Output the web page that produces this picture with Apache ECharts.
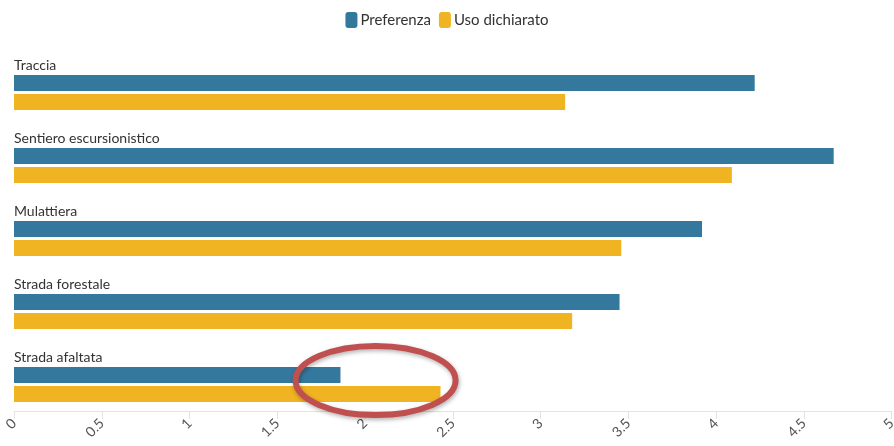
<!DOCTYPE html>
<html>
<head>
<meta charset="utf-8">
<script src="https://cdn.jsdelivr.net/npm/echarts@6/dist/echarts.min.js"></script>
<style>
  html, body { margin: 0; padding: 0; background: #fff; }
  #chart { width: 894px; height: 446px; }
</style>
</head>
<body>
<div id="chart"></div>
<script>
var categories = ['Traccia', 'Sentiero escursionistico', 'Mulattiera', 'Strada forestale', 'Strada afaltata']
var preferenza = [4.22, 4.67, 3.92, 3.45, 1.86]
var usoDichiarato = [3.14, 4.09, 3.46, 3.18, 2.43]
var xTicks = [0, 0.5, 1, 1.5, 2, 2.5, 3, 3.5, 4, 4.5, 5]

var myChart = echarts.init(document.getElementById('chart'))
var font = 'Lato, "Noto Sans", sans-serif'

var option = {
  animation: false,
  textStyle: { fontFamily: font },
  legend: {
    top: 7,
    left: 'center',
    itemWidth: 12,
    itemHeight: 16,
    itemGap: 8,
    icon: 'roundRect',
    textStyle: { fontSize: 15, color: '#333', fontFamily: font, padding: [0, 0, 0, -2] },
    data: ['Preferenza', 'Uso dichiarato']
  },
  grid: {
    left: 14,
    right: 2.4,
    top: 56,
    height: 365,
    containLabel: false,
    outerBoundsMode: 'none'
  },
  xAxis: {
    type: 'value',
    min: 0,
    max: 5,
    interval: 0.5,
    offset: -10,
    splitLine: { show: false },
    axisLine: { show: true, lineStyle: { color: '#e3e3e3', width: 1 } },
    axisTick: { show: true, length: 8, lineStyle: { color: '#e3e3e3' } },
    axisLabel: {
      rotate: 45,
      color: '#555',
      fontSize: 14,
      margin: 10,
      fontFamily: font,
      formatter: function (v) { return xTicks.indexOf(v) >= 0 ? String(v) : '' }
    }
  },
  yAxis: {
    type: 'category',
    inverse: true,
    data: categories,
    axisLine: { show: false },
    axisTick: { show: false },
    axisLabel: { show: false }
  },
  series: [
    {
      name: 'Preferenza',
      type: 'bar',
      data: preferenza,
      barWidth: 16,
      barGap: '19%',
      itemStyle: { color: '#35789e' },
      label: {
        show: true,
        position: [0, -2],
        align: 'left',
        verticalAlign: 'bottom',
        color: '#333',
        fontSize: 14,
        fontFamily: font,
        formatter: function (p) { return p.name }
      }
    },
    {
      name: 'Uso dichiarato',
      type: 'bar',
      data: usoDichiarato,
      barWidth: 16,
      itemStyle: { color: '#f0b422' }
    }
  ]
}
option && myChart.setOption(option)

// annotation circle around the last category
var c = myChart.convertToPixel({ gridIndex: 0 }, [2.06, categories[4]])
myChart.setOption({
  graphic: [{
    type: 'ellipse',
    shape: { cx: c[0], cy: c[1] - 4, rx: 80, ry: 34.5 },
    style: {
      fill: 'none',
      stroke: '#c0504f',
      lineWidth: 6,
      shadowBlur: 4,
      shadowColor: 'rgba(0,0,0,0.3)',
      shadowOffsetX: 1,
      shadowOffsetY: 2
    },
    z: 100
  }]
})
window.addEventListener('resize', function () {
  myChart.resize()
})
</script>
</body>
</html>
